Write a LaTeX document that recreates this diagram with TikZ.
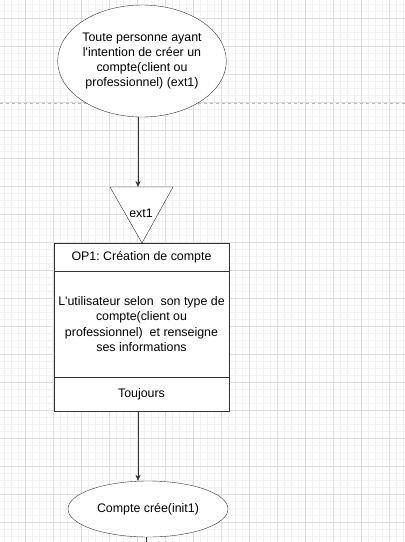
\documentclass[tikz,border=0pt]{standalone}
\usepackage{fontspec}
\setmainfont{Liberation Sans}
\usetikzlibrary{shapes.geometric, arrows.meta}
\frenchspacing

\definecolor{gridmajor}{HTML}{DEDEDE}
\definecolor{gridminor}{HTML}{F2F2F2}
\definecolor{strokegray}{HTML}{333333}

\tikzset{
    box/.style={draw=strokegray, rectangle, minimum width=175pt, inner sep=0pt, align=center},
    oval/.style={draw=strokegray, ellipse, inner sep=0pt, align=center},
    flow/.style={draw=strokegray, -{Stealth[length=6pt, width=5pt]}}
}

\begin{document}
\begin{tikzpicture}[x=1pt, y=-1pt, font=\fontsize{12.4}{15.3}\selectfont]
    \useasboundingbox (0,0) rectangle (405,542);
    \fill[white] (0,0) rectangle (405,542);
    % background grid
    \foreach \x in {4.5,11.5,...,405} \draw[gridminor, line width=0.8pt] (\x,0) -- (\x,542);
    \foreach \y in {4.5,11.5,...,542} \draw[gridminor, line width=0.8pt] (0,\y) -- (405,\y);
    \foreach \x in {25.5,53.5,...,405} \draw[gridmajor, line width=0.8pt] (\x,0) -- (\x,542);
    \foreach \y in {18.5,46.5,...,542} \draw[gridmajor, line width=0.8pt] (0,\y) -- (405,\y);
    \draw[black!28, dash pattern=on 3pt off 3pt] (0,103) -- (405,103);

    \node[oval, fill=white, minimum width=161pt, minimum height=112pt] (ext) at (142,61)
        {Toute personne ayant\\l\textquotesingle intention de créer un\\compte(client ou\\professionnel) (ext1)};

    % triangle
    \coordinate (triL) at (110,187);
    \coordinate (triR) at (173,187);
    \coordinate (triB) at (142,243);
    \coordinate (triTop) at (138,187);
    \fill[white] (triL) -- (triR) -- (triB) -- cycle;
    \draw[strokegray] (triL) -- (triR) -- (triB) -- cycle;
    \node (extlabel) at (141,213) {ext1};

    \node[box, fill=white, minimum height=28pt] (head) at (141.5,257) {OP1: Création de compte};
    \node[box, fill=white, minimum height=106pt] (body) at (141.5,324)
        {L\textquotesingle utilisateur selon\ \ son type de\\compte(client ou\\professionnel)\ \ et renseigne\\ses informations};
    \node[box, fill=white, minimum height=34pt] (foot) at (141.5,394) {Toujours};

    \node[oval, fill=white, minimum width=160pt, minimum height=56pt] (init) at (148,509) {Compte crée(init1)};
    \coordinate (exit) at (146,542);

    \draw[flow] (ext.south -| triTop) -- (triTop);
    \draw[flow] (foot.south -| triTop) -- (init.north -| triTop);
    \draw[strokegray] (init.south -| exit) -- (exit);
\end{tikzpicture}
\end{document}
